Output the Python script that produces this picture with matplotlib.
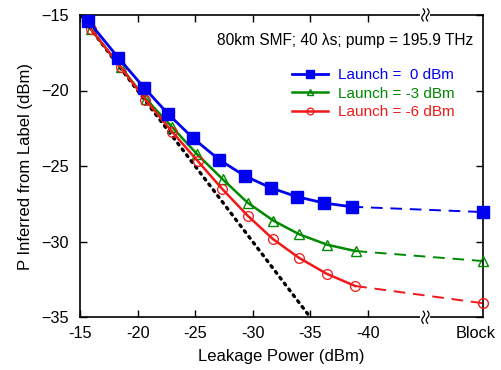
import matplotlib
matplotlib.use("Agg")
import matplotlib.pyplot as plt
from matplotlib.lines import Line2D
import matplotlib.transforms as mtransforms
import numpy as np

plt.rcParams['font.family'] = ['Liberation Sans', 'DejaVu Sans']

# Leakage power (dBm, plotted as positive magnitude so axis runs -15 -> -40 -> Block)
leak_blue = [15.72, 18.32, 20.56, 22.68, 24.83, 27.09, 29.32, 31.55, 33.81, 36.18, 38.58]
p_blue = [-15.40, -17.83, -19.81, -21.57, -23.16, -24.58, -25.65, -26.43, -27.02, -27.44, -27.69]
leak_green = [15.95, 18.52, 20.73, 22.96, 25.18, 27.39, 29.56, 31.80, 34.04, 36.47, 38.93]
p_green = [-15.95, -18.43, -20.56, -22.39, -24.22, -25.87, -27.42, -28.61, -29.51, -30.20, -30.62]
leak_red = [15.95, 18.56, 20.67, 22.99, 25.22, 27.35, 29.56, 31.75, 34.01, 36.42, 38.90]
p_red = [-15.95, -18.47, -20.60, -22.72, -24.66, -26.51, -28.28, -29.82, -31.06, -32.12, -32.93]
block_x = 50
block_blue, block_green, block_red = -28.04, -31.28, -34.07
ref_x = [15, 35]
ref_y = [-15, -35]

xtick_pos = [15, 20, 25, 30, 35, 40, 50]
xtick_labels = ['-15', '-20', '-25', '-30', '-35', '-40', 'Block']
ytick_pos = [-15, -20, -25, -30, -35]
break_x = 45

fig = plt.figure(figsize=(5.02, 3.70), dpi=100)
L, R, B, T = 80/502, 483/502, 1-317.3/370, 1-14.9/370
ax = fig.add_axes([L, B, R-L, T-B])

cb, cg, cr = '#0000f0', '#008a00', '#f01818'

ax.plot(ref_x, ref_y, color='black', lw=2.4, ls=(0, (0.6, 1.6)), dash_capstyle='round', zorder=1)

ax.plot(leak_blue, p_blue, color=cb, lw=2, marker='s', ms=8, mfc=cb, mec=cb, zorder=4,
        label='Launch =  0 dBm')
ax.plot(leak_green, p_green, color=cg, lw=1.8, marker='^', ms=7, mfc='none', mec=cg, zorder=3,
        label='Launch = -3 dBm')
ax.plot(leak_red, p_red, color=cr, lw=1.8, marker='o', ms=7, mfc='none', mec=cr, mew=0.9, zorder=3,
        label='Launch = -6 dBm')

ax.plot([leak_blue[-1], block_x], [p_blue[-1], block_blue], color=cb, lw=1.4, ls=(0, (6, 4)), zorder=2)
ax.plot([leak_green[-1], block_x], [p_green[-1], block_green], color=cg, lw=1.4, ls=(0, (6, 4)), zorder=2)
ax.plot([leak_red[-1], block_x], [p_red[-1], block_red], color=cr, lw=1.4, ls=(0, (6, 4)), zorder=2)
ax.plot([block_x], [block_blue], color=cb, marker='s', ms=8, mfc=cb, mec=cb, clip_on=False, zorder=5)
ax.plot([block_x], [block_green], color=cg, marker='^', ms=7, mfc='none', mec=cg, clip_on=False, zorder=5)
ax.plot([block_x], [block_red], color=cr, marker='o', ms=7, mfc='none', mec=cr, clip_on=False, zorder=5)

ax.set_xlim(15, 50)
ax.set_ylim(-35, -15)
ax.set_xticks(xtick_pos)
ax.set_xticklabels(xtick_labels)
ax.set_yticks(ytick_pos)
ax.tick_params(direction='in', top=True, right=True, length=5, width=1, labelsize=11.7)
ax.tick_params(axis='x', pad=6)
ax.tick_params(axis='y', pad=8)
for t in ax.xaxis.get_major_ticks():
    if t.get_loc() == 50:
        t.tick1line.set_visible(False)
        t.tick2line.set_visible(False)
for t in ax.yaxis.get_major_ticks():
    if t.get_loc() in (-15, -35):
        t.tick1line.set_visible(False)
        t.tick2line.set_visible(False)
# nudge the "Block" label left so it stays inside the figure
blk = ax.get_xticklabels()[-1]
blk.set_transform(blk.get_transform() + mtransforms.ScaledTranslation(-5/72, 0, fig.dpi_scale_trans))
for s in ax.spines.values():
    s.set_linewidth(1.2)

ax.set_xlabel('Leakage Power (dBm)', fontsize=12, labelpad=6)
ax.set_ylabel('P Inferred from Label (dBm)', fontsize=12, labelpad=6)

ax.text(0.975, 0.915, '80km SMF; 40 λs; pump = 195.9 THz', transform=ax.transAxes,
        ha='right', va='center', fontsize=11.2)

leg = ax.legend(loc='upper right', bbox_to_anchor=(0.955, 0.86), frameon=False, fontsize=11,
                handlelength=2.4, handletextpad=0.6, labelspacing=0.3, borderpad=0.2,
                markerscale=0.7)
for txt, c in zip(leg.get_texts(), [cb, cg, cr]):
    txt.set_color(c)

# axis break marks at break_x on top and bottom spines
xb_fig = L + (break_x - 15) / 35 * (R - L)
W, H = fig.get_size_inches() * fig.dpi
for yb in (B, T):
    gap = Line2D([xb_fig - 3/W, xb_fig + 3/W], [yb, yb], transform=fig.transFigure,
                 color='white', lw=3, zorder=10)
    fig.add_artist(gap)
    tt = np.linspace(-1, 1, 30)
    for off in (-2.2, 2.2):
        xs = xb_fig + (off + 1.4*np.sin(np.pi*tt)) / W
        ys = yb + tt * 6 / H
        fig.add_artist(Line2D(xs, ys, transform=fig.transFigure, color='black', lw=0.9, zorder=11))

fig.savefig('out.png', dpi=100)
